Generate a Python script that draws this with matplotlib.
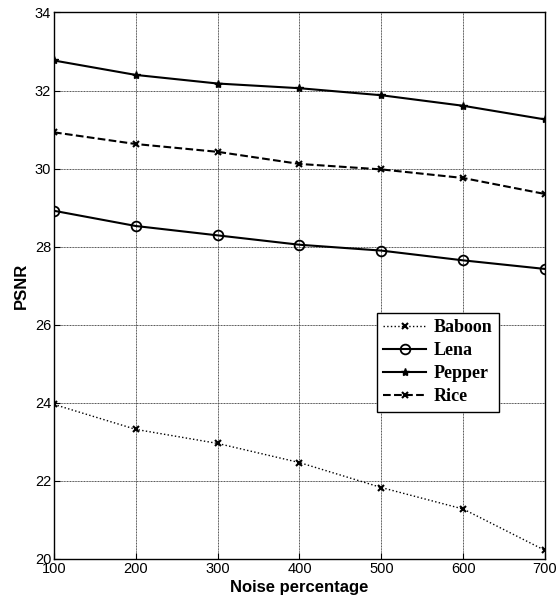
import matplotlib
matplotlib.use('Agg')
import matplotlib.pyplot as plt

# Datos
noise = [100, 200, 300, 400, 500, 600, 700]
baboon = [23.96, 23.32, 22.96, 22.47, 21.83, 21.28, 20.22]
lena = [28.92, 28.53, 28.29, 28.05, 27.90, 27.65, 27.43]
pepper = [32.77, 32.40, 32.18, 32.06, 31.88, 31.61, 31.26]
rice = [30.93, 30.63, 30.43, 30.12, 29.98, 29.76, 29.35]

plt.rcParams['font.family'] = ['Liberation Sans', 'DejaVu Sans']

fig = plt.figure(figsize=(5.56, 6.03), dpi=100)
ax = fig.add_axes([0.0971, 0.0730, 0.8831, 0.9063])

ax.plot(noise, baboon, color='k', linestyle=':', linewidth=1.0,
        marker='x', markersize=4, markeredgewidth=1.5, label='Baboon')
ax.plot(noise, lena, color='k', linestyle='-', linewidth=1.5,
        marker='o', markersize=7, markerfacecolor='none', markeredgewidth=1.3, label='Lena')
ax.plot(noise, pepper, color='k', linestyle='-', linewidth=1.5,
        marker='*', markersize=6, label='Pepper')
ax.plot(noise, rice, color='k', linestyle='--', linewidth=1.5,
        marker='x', markersize=4, markeredgewidth=1.5, label='Rice')

ax.set_xlim(100, 700)
ax.set_ylim(20, 34)
ax.set_xticks(noise)
ax.set_yticks(range(20, 35, 2))
ax.tick_params(direction='in', length=4, labelsize=10.5, pad=2, color='k')
ax.grid(True, color='0.3', linestyle=(0, (1, 0.6)), linewidth=0.7)
for s in ax.spines.values():
    s.set_linewidth(1.0)

ax.set_xlabel('Noise percentage', fontsize=12, fontweight='bold', labelpad=3)
ax.set_ylabel('PSNR', fontsize=12, fontweight='bold', labelpad=4)

leg = ax.legend(loc='upper left', bbox_to_anchor=(0.657, 0.451), handlelength=2.4,
                fancybox=False, framealpha=1, edgecolor='k', borderaxespad=0,
                prop={'family': 'Liberation Serif', 'weight': 'bold', 'size': 13},
                labelspacing=0.34, handletextpad=0.4, borderpad=0.35)
leg.get_frame().set_linewidth(1.0)

plt.savefig('out.png', dpi=100)
plt.close()
